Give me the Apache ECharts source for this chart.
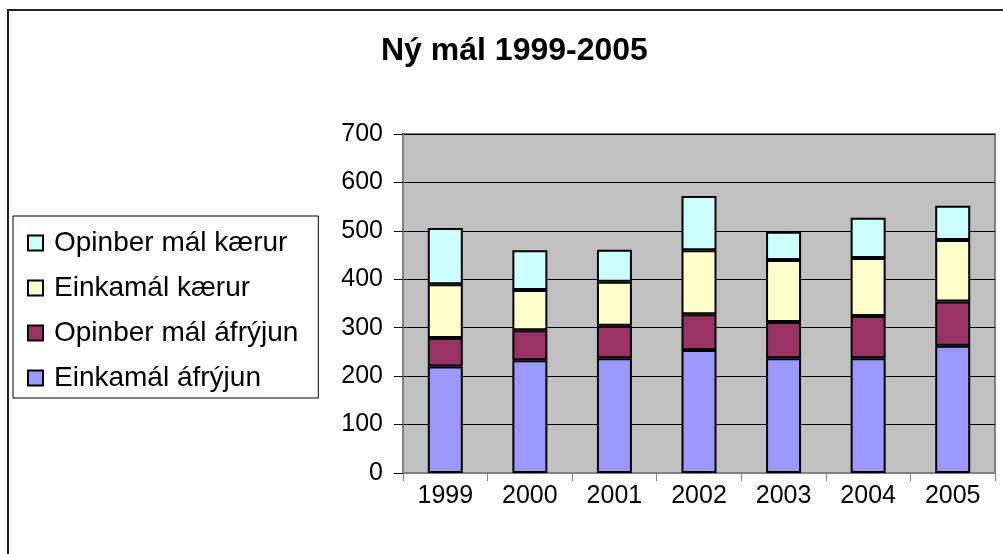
<!DOCTYPE html>
<html lang="is">
<head>
    <meta charset="UTF-8"/>
    <title>Ný mál 1999-2005</title>
    <style>
        html, body {
            margin: 0;
            padding: 0;
            width: 100vw;
            height: 100vh;
            background: #ffffff;
            overflow: hidden;
        }

        #chart {
            width: 1003px;
            height: 554px;
        }
    </style>
</head>
<body>
<div id="chart"></div>
<script src="https://cdn.jsdelivr.net/npm/echarts@6/dist/echarts.min.js"></script>
<script>
    const years = ['1999', '2000', '2001', '2002', '2003', '2004', '2005'];
    const einkamalAfryjun = [220, 233, 237, 254, 237, 237, 263];
    const opinberAfryjun = [59, 62, 67, 74, 75, 87, 91];
    const einkamalKaerur = [111, 83, 91, 132, 128, 120, 127];
    const opinberKaerur = [116, 82, 66, 112, 58, 83, 71];

    const font = '"Liberation Sans", Arial, sans-serif';

    const chart = echarts.init(document.getElementById('chart'));

    function createSeries(name, data, color) {
        return {
            name: name,
            type: 'bar',
            stack: 'total',
            barWidth: 35,
            itemStyle: {
                color: color,
                borderColor: '#000',
                borderWidth: 2
            },
            data: data
        };
    }

    chart.setOption({
        animation: false,
        backgroundColor: '#ffffff',
        textStyle: {fontFamily: font},
        title: {
            text: 'Ný mál 1999-2005',
            left: 376,
            top: 30,
            textStyle: {fontFamily: font, fontSize: 32, fontWeight: 'bold', color: '#000'}
        },
        legend: {
            orient: 'vertical',
            left: 13,
            top: 216,
            padding: [13, 20, 6, 14],
            borderColor: '#000',
            borderWidth: 1,
            itemWidth: 15,
            itemHeight: 15,
            itemGap: 17,
            icon: 'rect',
            data: ['Opinber mál kærur', 'Einkamál kærur', 'Opinber mál áfrýjun', 'Einkamál áfrýjun'],
            textStyle: {fontFamily: font, fontSize: 28, color: '#000', padding: [0, 0, 0, 6]}
        },
        grid: {
            left: 403,
            top: 134,
            right: 8,
            bottom: 81,
            show: true,
            backgroundColor: '#C0C0C0',
            borderColor: '#808080',
            borderWidth: 2
        },
        xAxis: {
            type: 'category',
            data: years,
            axisLine: {lineStyle: {color: '#808080', width: 1}},
            axisTick: {show: true, length: 8, lineStyle: {color: '#808080'}},
            axisLabel: {fontFamily: font, fontSize: 25, color: '#000', margin: 11}
        },
        yAxis: {
            type: 'value',
            min: 0,
            max: 700,
            interval: 100,
            axisLine: {show: true, lineStyle: {color: '#808080', width: 1}},
            axisTick: {show: true, length: 9, lineStyle: {color: '#000'}},
            axisLabel: {fontFamily: font, fontSize: 25, color: '#000', margin: 20},
            splitLine: {lineStyle: {color: '#000', width: 1}}
        },
        graphic: [{
            type: 'rect',
            shape: {x: 8, y: 10, width: 1100, height: 600},
            style: {fill: 'none', stroke: '#222', lineWidth: 2},
            silent: true
        }],
        series: [
            createSeries('Einkamál áfrýjun', einkamalAfryjun, '#9999FF'),
            createSeries('Opinber mál áfrýjun', opinberAfryjun, '#993366'),
            createSeries('Einkamál kærur', einkamalKaerur, '#FFFFCC'),
            createSeries('Opinber mál kærur', opinberKaerur, '#CCFFFF')
        ]
    });
</script>
</body>
</html>
